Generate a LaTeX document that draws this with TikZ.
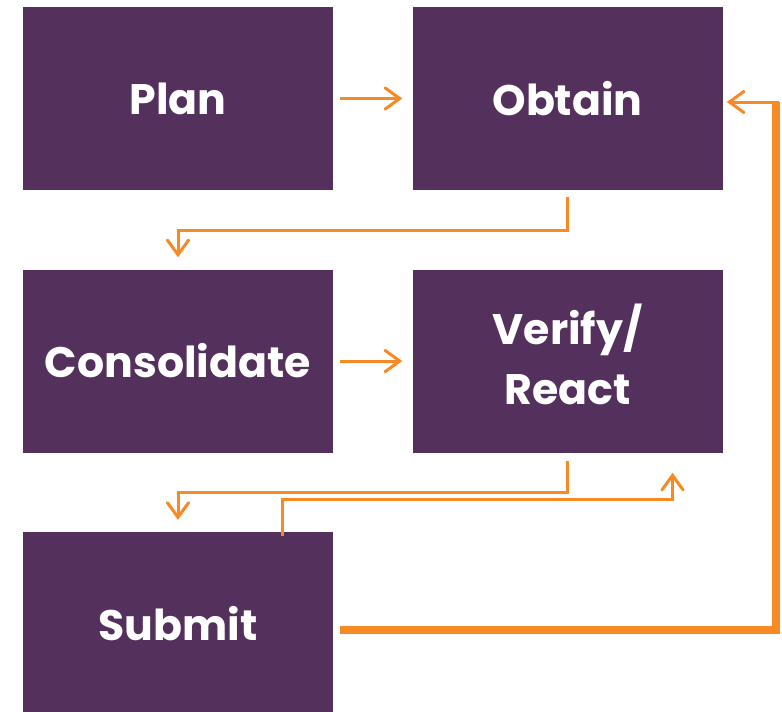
\documentclass[tikz,border=0pt]{standalone}
\usepackage{fontspec}
\setmainfont{Poppins}
\usetikzlibrary{positioning,arrows.meta}
\definecolor{stagepurple}{HTML}{54305D}
\definecolor{floworange}{HTML}{F88A26}
\tikzstyle{stage}=[shape=rectangle,
                fill=stagepurple,
                text=white,
                align=center,
                font=\fontsize{32}{45}\selectfont\bfseries,
                minimum height=137.25pt,
                minimum width=232.5pt,
                inner sep=0pt]
\tikzstyle{flow}=[draw=floworange,
                line width=2.25pt,
                -{Straight Barb[length=11pt,width=16pt,line cap=round]}]
\tikzstyle{bigflow}=[draw=floworange,
                line width=6pt]

\begin{document}
\begin{tikzpicture}[x=0.75pt,y=-0.75pt,node distance=59.25pt]
\useasboundingbox (0,0) rectangle (782,711);

% stage nodes
\node[stage] (plan) at (178,98.5) {Plan};
\node[stage] (obtain) [right=of plan] {Obtain};
\node[stage] (consol) [below=59.25pt of plan] {Consolidate};
\node[stage,text depth=10pt] (verify) [right=of consol] {Verify/\\React};
\node[stage] (submit) [below=59.25pt of consol] {Submit};

% arrows along the rows
\path (plan.east) edge[flow,shorten <=5.25pt,shorten >=7.5pt] (obtain.west)
      (consol.east) edge[flow,shorten <=5.25pt,shorten >=7.5pt] (verify.west);

% arrows down to the next row
\draw[flow,shorten <=5.25pt,shorten >=9pt] (obtain.south) -- ++(0,40) -| (consol.north);
\draw[flow,shorten <=6pt,shorten >=9pt] (verify.south) -- ++(0,40) -| (submit.north);

% arrow back up from submit
\draw[flow,shorten <=-3pt,shorten >=15pt] ([xshift=78pt]submit.north) -- ++(0,-32) -| ([xshift=78.75pt]verify.south);

% return path to obtain
\coordinate (corner) at (776,102);
\draw[bigflow,shorten <=5.25pt] ([yshift=-4.9pt]submit.east) -| (corner);
\draw[flow,shorten >=3pt] ([xshift=2.25pt]corner) -- (corner -| obtain.east);
\end{tikzpicture}
\end{document}
